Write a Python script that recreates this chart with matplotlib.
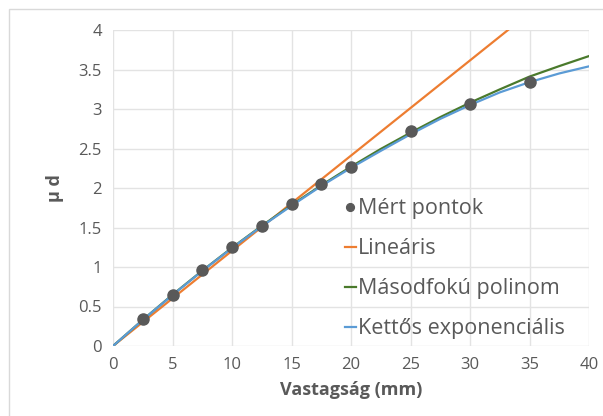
import matplotlib
matplotlib.use("Agg")
import matplotlib.pyplot as plt
from matplotlib.patches import Rectangle

plt.rcParams['font.family'] = ['Open Sans', 'DejaVu Sans']

# Measured points
x_meas = [2.5, 5, 7.5, 10, 12.5, 15, 17.5, 20, 25, 30, 35]
y_meas = [0.34, 0.645, 0.96, 1.25, 1.52, 1.80, 2.05, 2.27, 2.72, 3.06, 3.34]

# Linear trend (read endpoints)
x_lin = [0, 40]
y_lin = [0, 4.82]

# Curves read at 2.5 mm steps
x_curve = [0, 2.5, 5, 7.5, 10, 12.5, 15, 17.5, 20, 22.5, 25, 27.5, 30, 32.5, 35, 37.5, 40]
y_quad = [0, 0.331, 0.649, 0.953, 1.244, 1.521, 1.784, 2.034, 2.27, 2.494, 2.70, 2.897, 3.08, 3.248, 3.41, 3.543, 3.67]
y_dexp = [0, 0.33, 0.645, 0.95, 1.24, 1.515, 1.775, 2.025, 2.255, 2.47, 2.68, 2.875, 3.05, 3.21, 3.34, 3.45, 3.54]

xticks = [0, 5, 10, 15, 20, 25, 30, 35, 40]
yticks = [0, 0.5, 1, 1.5, 2, 2.5, 3, 3.5, 4]
ytick_labels = ['0', '0.5', '1', '1.5', '2', '2.5', '3', '3.5', '4']

fig = plt.figure(figsize=(6.03, 4.16), dpi=100)
ax = fig.add_axes([113/603, 1 - 346/416, (589-113)/603, (346-30)/416])

grid_c = '#e3e3e3'
txt_c = '#595959'

ax.plot(x_lin, y_lin, color='#ED7D31', lw=1.6, label='Lineáris', zorder=3)
ax.plot(x_curve, y_quad, color='#4A7A2C', lw=1.6, label='Másodfokú polinom', zorder=4)
ax.plot(x_curve, y_dexp, color='#5B9BD5', lw=1.6, label='Kettős exponenciális', zorder=4)
ax.plot(x_meas, y_meas, 'o', color='#595959', ms=8, label='Mért pontok', zorder=5)

ax.set_xlim(0, 40)
ax.set_ylim(0, 4)
ax.set_xticks(xticks)
ax.set_yticks(yticks)
ax.set_yticklabels(ytick_labels)
ax.grid(True, color=grid_c, lw=1)
ax.set_axisbelow(True)
for s in ax.spines.values():
    s.set_visible(False)
ax.tick_params(length=0, labelsize=12, colors=txt_c, pad=8)

ax.set_xlabel('Vastagság (mm)', fontsize=13, fontweight='bold', color=txt_c, labelpad=6)
ax.set_ylabel('µ d', fontsize=13, fontweight='bold', color=txt_c, labelpad=10)

h, l = ax.get_legend_handles_labels()
order = [3, 0, 1, 2]
leg = ax.legend([h[i] for i in order], [l[i] for i in order],
                loc='lower left', bbox_to_anchor=(0.487, 0.022), frameon=False,
                borderaxespad=0, borderpad=0,
                fontsize=15.5, handlelength=0.5, handletextpad=0.1,
                labelspacing=0.88, labelcolor=txt_c, markerscale=0.7)

fig.patches.append(Rectangle((9/603, -0.1), 1.2, 1 - 9/416 + 0.1, transform=fig.transFigure,
                             fill=False, edgecolor='#d9d9d9', lw=1))

fig.savefig('out.png', dpi=100)
